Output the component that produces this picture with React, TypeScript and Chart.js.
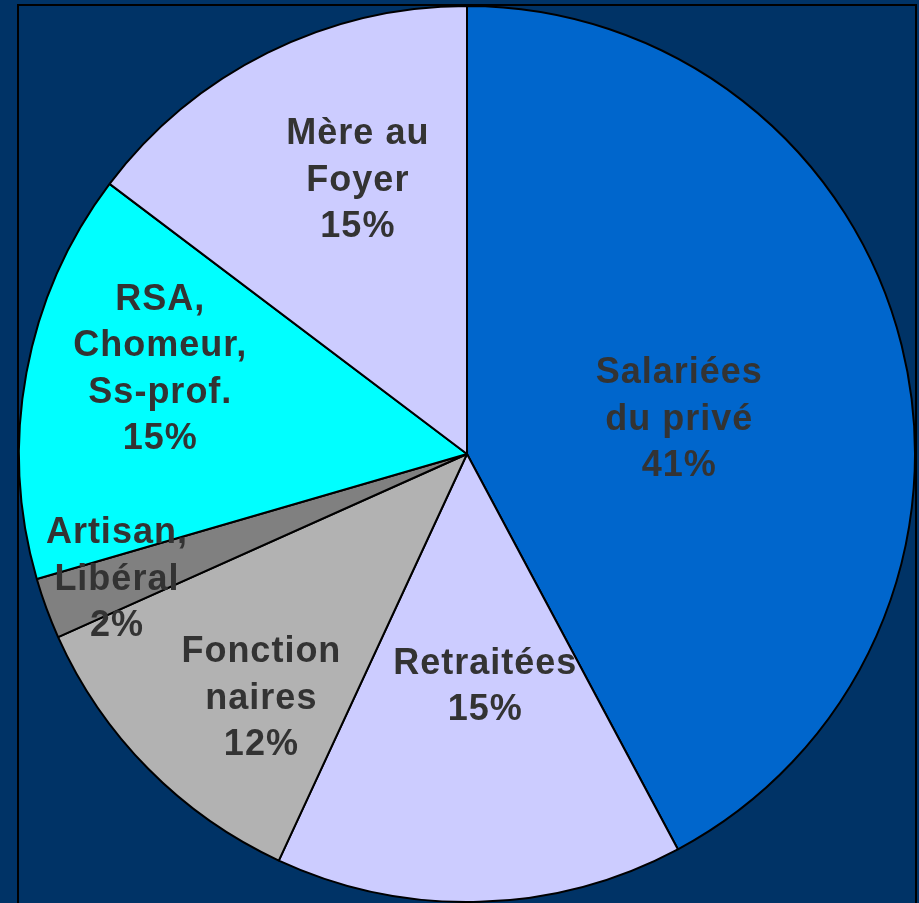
import React, { useEffect, useRef } from "react";
import { Chart, registerables } from "chart.js";

Chart.register(...registerables);

const categories = [
  "Salariées du privé",
  "Retraitées",
  "Fonctionnaires",
  "Artisan, Libéral",
  "RSA, Chomeur, Ss-prof.",
  "Mère au Foyer",
];
const shares = [42.2, 14.7, 11.4, 2.2, 14.8, 14.7];
const percentLabels = ["41%", "15%", "12%", "2%", "15%", "15%"];
const labelLines = [
  ["Salariées", "du privé"],
  ["Retraitées"],
  ["Fonction", "naires"],
  ["Artisan,", "Libéral"],
  ["RSA,", "Chomeur,", "Ss-prof."],
  ["Mère au", "Foyer"],
];
const sliceColors = ["#0066CC", "#CCCCFF", "#B2B2B2", "#808080", "#00FFFF", "#CCCCFF"];
// label placement: fraction of radius, and angular shift from slice middle (deg)
const labelRadius = [0.48, 0.515, 0.709, 0.829, 0.713, 0.663];
const labelShift = [4.1, -2.8, -4.9, 0.9, 5.5, 4.8];

const W = 919;
const H = 903;

const labelPlugin = {
  id: "sliceLabels",
  afterDatasetsDraw(chart: any) {
    const ctx = chart.ctx;
    const meta = chart.getDatasetMeta(0);
    ctx.save();
    ctx.fillStyle = "#333333";
    ctx.font = "bold 36px 'Liberation Sans', Arial, sans-serif";
    ctx.textAlign = "center";
    ctx.textBaseline = "alphabetic";
    try {
      (ctx as any).letterSpacing = "1px";
    } catch (e) {}
    const lh = 46.5;
    meta.data.forEach((arc: any, i: number) => {
      const p = arc.getProps(["x", "y", "startAngle", "endAngle", "outerRadius"], true);
      const mid = (p.startAngle + p.endAngle) / 2 + (labelShift[i] * Math.PI) / 180;
      const r = p.outerRadius * labelRadius[i];
      const cx = p.x + Math.cos(mid) * r;
      const cy = p.y + Math.sin(mid) * r;
      const lines = [...labelLines[i], percentLabels[i]];
      const top = cy - ((lines.length - 1) * lh) / 2;
      lines.forEach((t, k) => {
        ctx.fillText(t, cx + 0.5, top + k * lh + 13);
      });
    });
    ctx.restore();
  },
};

export default function App() {
  const ref = useRef<HTMLCanvasElement | null>(null);
  useEffect(() => {
    if (!ref.current) return;
    const chart = new Chart(ref.current, {
      type: "pie",
      data: {
        labels: categories,
        datasets: [
          {
            data: shares,
            backgroundColor: sliceColors,
            borderColor: "#000000",
            borderWidth: 2,
          },
        ],
      },
      options: {
        responsive: false,
        animation: false,
        radius: 448,
        layout: { padding: { left: 15, right: 0, top: 5, bottom: 0 } },
        plugins: {
          legend: { display: false },
          tooltip: { enabled: false },
        },
      } as any,
      plugins: [labelPlugin],
    });
    return () => chart.destroy();
  }, []);

  return (
    <div
      style={{
        position: "fixed",
        left: 0,
        top: 0,
        width: W,
        height: H,
        overflow: "hidden",
        background: "#003366",
      }}
    >
      <div
        style={{
          position: "absolute",
          left: 17,
          top: 4,
          width: 900,
          height: 1000,
          boxSizing: "border-box",
          border: "2px solid #000000",
        }}
      />
      <canvas
        ref={ref}
        width={W}
        height={H}
        style={{ position: "absolute", left: 0, top: 0, display: "block", width: W, height: H }}
      />
    </div>
  );
}
